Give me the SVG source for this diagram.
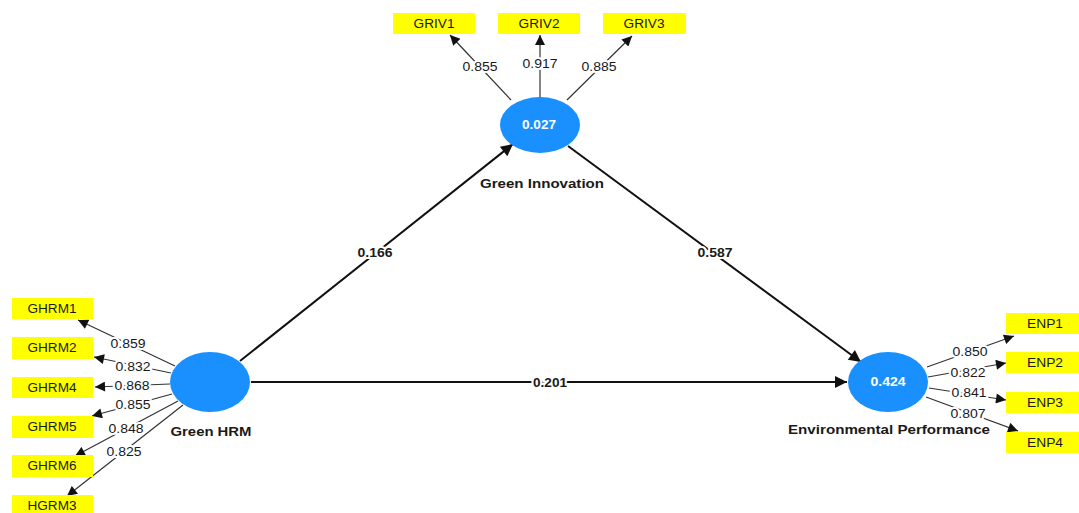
<svg xmlns="http://www.w3.org/2000/svg" width="1079" height="513" viewBox="0 0 1079 513">
<style>
.box{fill:#ffff00;}
.bt{font-family:"Liberation Sans",Arial,sans-serif;font-size:12.5px;fill:#1a1a1a;text-anchor:middle;}
.lv{fill:#1a90ff;}
.lvv{font-family:"Liberation Sans",Arial,sans-serif;font-size:12px;font-weight:bold;fill:#fff;text-anchor:middle;}
.lvn{font-family:"Liberation Sans",Arial,sans-serif;font-size:12.5px;font-weight:bold;fill:#1a1a1a;text-anchor:middle;}
.ld{stroke:#333;stroke-width:1.2;fill:none;marker-end:url(#as);}
.pt{stroke:#111;stroke-width:2;fill:none;marker-end:url(#al);}
.lt{font-family:"Liberation Sans",Arial,sans-serif;font-size:12.5px;fill:#1a1a1a;text-anchor:middle;stroke:#fff;stroke-width:4;paint-order:stroke;}
.pl{font-family:"Liberation Sans",Arial,sans-serif;font-size:12.5px;font-weight:bold;fill:#1a1a1a;text-anchor:middle;stroke:#fff;stroke-width:4;paint-order:stroke;}
</style>
<defs>
<marker id="as" viewBox="0 0 10 10" refX="10" refY="5" markerWidth="11" markerHeight="10" markerUnits="userSpaceOnUse" orient="auto"><path d="M0,0L10,5L0,10z" fill="#111"/></marker>
<marker id="al" viewBox="0 0 10 10" refX="10" refY="5" markerWidth="14" markerHeight="12" markerUnits="userSpaceOnUse" orient="auto"><path d="M0,0L10,5L0,10z" fill="#111"/></marker>
</defs>
<rect width="1079" height="513" fill="#fff"/>
<g id="connectors">
<path class="pt" d="M240,361L513,144"/>
<path class="pt" d="M568,146L861,362"/>
<path class="pt" d="M251,382L847,382"/>
<path class="ld" d="M511,100L450,35"/>
<path class="ld" d="M540,97L540,35"/>
<path class="ld" d="M567,100L632,36"/>
<path class="ld" d="M175,366L78,320"/>
<path class="ld" d="M171,373L94,357"/>
<path class="ld" d="M170,384L95,387"/>
<path class="ld" d="M172,394L92,416"/>
<path class="ld" d="M178,401L75,456"/>
<path class="ld" d="M183,405L67,496"/>
<path class="ld" d="M927,367L1014,336"/>
<path class="ld" d="M928,377L1006,363"/>
<path class="ld" d="M929,388L1006,400"/>
<path class="ld" d="M926,397L1018,431"/>
<text class="pl" x="375" y="257" textLength="35" lengthAdjust="spacingAndGlyphs">0.166</text>
<text class="pl" x="715" y="257" textLength="35" lengthAdjust="spacingAndGlyphs">0.587</text>
<text class="pl" x="550" y="387" textLength="34" lengthAdjust="spacingAndGlyphs">0.201</text>
<text class="lt" x="480" y="71" textLength="35" lengthAdjust="spacingAndGlyphs">0.855</text>
<text class="lt" x="540" y="68" textLength="35" lengthAdjust="spacingAndGlyphs">0.917</text>
<text class="lt" x="599" y="71" textLength="35" lengthAdjust="spacingAndGlyphs">0.885</text>
<text class="lt" x="128" y="348" textLength="35" lengthAdjust="spacingAndGlyphs">0.859</text>
<text class="lt" x="133" y="371" textLength="35" lengthAdjust="spacingAndGlyphs">0.832</text>
<text class="lt" x="132" y="390" textLength="35" lengthAdjust="spacingAndGlyphs">0.868</text>
<text class="lt" x="133" y="409" textLength="35" lengthAdjust="spacingAndGlyphs">0.855</text>
<text class="lt" x="126" y="433" textLength="35" lengthAdjust="spacingAndGlyphs">0.848</text>
<text class="lt" x="124" y="456" textLength="35" lengthAdjust="spacingAndGlyphs">0.825</text>
<text class="lt" x="970" y="356" textLength="35" lengthAdjust="spacingAndGlyphs">0.850</text>
<text class="lt" x="968" y="377" textLength="35" lengthAdjust="spacingAndGlyphs">0.822</text>
<text class="lt" x="969" y="397" textLength="35" lengthAdjust="spacingAndGlyphs">0.841</text>
<text class="lt" x="968" y="418" textLength="35" lengthAdjust="spacingAndGlyphs">0.807</text>
</g>
<g id="GRIV1"><rect class="box" x="393" y="13" width="82" height="21"/><text class="bt" x="434" y="28" textLength="41" lengthAdjust="spacingAndGlyphs">GRIV1</text></g>
<g id="GRIV2"><rect class="box" x="498" y="13" width="82" height="21"/><text class="bt" x="539" y="28" textLength="41" lengthAdjust="spacingAndGlyphs">GRIV2</text></g>
<g id="GRIV3"><rect class="box" x="603" y="13" width="83" height="21"/><text class="bt" x="644" y="28" textLength="41" lengthAdjust="spacingAndGlyphs">GRIV3</text></g>
<g id="GHRM1"><rect class="box" x="12" y="298" width="81" height="21"/><text class="bt" x="52" y="313" textLength="49" lengthAdjust="spacingAndGlyphs">GHRM1</text></g>
<g id="GHRM2"><rect class="box" x="12" y="337" width="81" height="22"/><text class="bt" x="52" y="352" textLength="49" lengthAdjust="spacingAndGlyphs">GHRM2</text></g>
<g id="GHRM4"><rect class="box" x="12" y="377" width="81" height="21"/><text class="bt" x="52" y="392" textLength="49" lengthAdjust="spacingAndGlyphs">GHRM4</text></g>
<g id="GHRM5"><rect class="box" x="12" y="416" width="81" height="22"/><text class="bt" x="52" y="431" textLength="49" lengthAdjust="spacingAndGlyphs">GHRM5</text></g>
<g id="GHRM6"><rect class="box" x="12" y="455" width="81" height="22"/><text class="bt" x="52" y="470" textLength="49" lengthAdjust="spacingAndGlyphs">GHRM6</text></g>
<g id="HGRM3"><rect class="box" x="12" y="495" width="81" height="22"/><text class="bt" x="52" y="510" textLength="49" lengthAdjust="spacingAndGlyphs">HGRM3</text></g>
<g id="ENP1"><rect class="box" x="1006" y="313" width="73" height="21"/><text class="bt" x="1045" y="328" textLength="36" lengthAdjust="spacingAndGlyphs">ENP1</text></g>
<g id="ENP2"><rect class="box" x="1006" y="352" width="73" height="21"/><text class="bt" x="1045" y="367" textLength="36" lengthAdjust="spacingAndGlyphs">ENP2</text></g>
<g id="ENP3"><rect class="box" x="1006" y="392" width="73" height="21"/><text class="bt" x="1045" y="407" textLength="36" lengthAdjust="spacingAndGlyphs">ENP3</text></g>
<g id="ENP4"><rect class="box" x="1006" y="432" width="73" height="21"/><text class="bt" x="1045" y="447" textLength="36" lengthAdjust="spacingAndGlyphs">ENP4</text></g>
<g id="GreenInnovation"><ellipse class="lv" cx="540" cy="125" rx="40" ry="28"/><text class="lvv" x="539" y="129" textLength="34" lengthAdjust="spacingAndGlyphs">0.027</text><text class="lvn" x="542" y="188" textLength="124" lengthAdjust="spacingAndGlyphs">Green Innovation</text></g>
<g id="GreenHRM"><ellipse class="lv" cx="210" cy="382" rx="40" ry="30"/><text class="lvn" x="211" y="436" textLength="81" lengthAdjust="spacingAndGlyphs">Green HRM</text></g>
<g id="EnvironmentalPerformance"><ellipse class="lv" cx="888" cy="382" rx="40" ry="30"/><text class="lvv" x="888" y="386" textLength="35" lengthAdjust="spacingAndGlyphs">0.424</text><text class="lvn" x="889" y="434" textLength="202" lengthAdjust="spacingAndGlyphs">Environmental Performance</text></g>
</svg>
